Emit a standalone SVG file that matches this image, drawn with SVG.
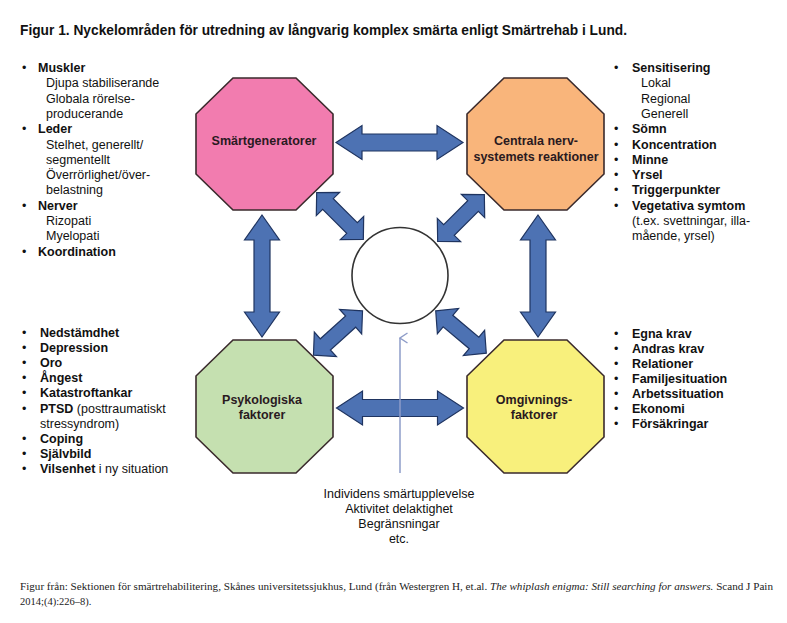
<svg xmlns="http://www.w3.org/2000/svg" width="787" height="623" viewBox="0 0 787 623">
<defs>
<style>
.t{font-family:"Liberation Sans",Arial,sans-serif;font-size:12.5px;fill:#111}
.b{font-weight:bold}
.lab{font-family:"Liberation Sans",Arial,sans-serif;font-size:12.5px;font-weight:bold;fill:#2a1a1f;text-anchor:middle}
.oct{stroke:#3a2a2c;stroke-width:1.6}
.arr{fill:#4d72b3;stroke:#1f3460;stroke-width:1.2;stroke-linejoin:miter}
.foot{font-family:"Liberation Serif","Times New Roman",serif;font-size:10.5px;fill:#222}
</style>
<path id="ah" d="M-63.5 0 L-37.5 -17 L-37.5 -8.5 L37.5 -8.5 L37.5 -17 L63.5 0 L37.5 17 L37.5 8.5 L-37.5 8.5 L-37.5 17 Z"/>
<path id="av" d="M-61 0 L-36 -17.5 L-36 -8 L36 -8 L36 -17.5 L61 0 L36 17.5 L36 8 L-36 8 L-36 17.5 Z"/>
<path id="ad" d="M-33 0 L-17 -16.5 L-17 -7.5 L17 -7.5 L17 -16.5 L33 0 L17 16.5 L17 7.5 L-17 7.5 L-17 16.5 Z"/>
<marker id="thin" markerWidth="14" markerHeight="12" refX="7" refY="1.5" orient="auto-start-reverse" markerUnits="userSpaceOnUse" viewBox="0 0 14 12">
<path d="M2 9 L7 1.5 L12 9" fill="none" stroke="#8e9cc8" stroke-width="1.4"/>
</marker>
</defs>
<rect width="787" height="623" fill="#fff"/>

<text x="20" y="35" font-family="'Liberation Sans',Arial,sans-serif" font-size="15" font-weight="bold" fill="#111" textLength="607" lengthAdjust="spacingAndGlyphs">Figur 1. Nyckelområden för utredning av långvarig komplex smärta enligt Smärtrehab i Lund.</text>

<g id="connectors">
<use href="#ah" class="arr" transform="translate(399.5,142.5)"/>
<use href="#ah" class="arr" transform="translate(400,408)"/>
<use href="#av" class="arr" transform="translate(262,276) rotate(90)"/>
<use href="#av" class="arr" transform="translate(538,276) rotate(90)"/>
<use href="#ad" class="arr" transform="translate(340,216) rotate(45)"/>
<use href="#ad" class="arr" transform="translate(461,218) rotate(-45)"/>
<use href="#ad" class="arr" transform="translate(338,333) rotate(-42)"/>
<use href="#ad" class="arr" transform="translate(461,332) rotate(40)"/>
<line x1="400" y1="473" x2="400" y2="338" stroke="#8e9cc8" stroke-width="1.5" marker-end="url(#thin)"/>
</g>

<g id="node-smartgeneratorer">
<polygon class="oct" fill="#f27caf" points="233,78 296,78 333,114 333,174 296,210 233,210 196,174 196,114"/>
<text class="lab" x="264" y="144.5">Smärtgeneratorer</text>
</g>
<g id="node-centrala">
<polygon class="oct" fill="#f9b57b" points="504,78 567,78 604,114 604,174 567,210 504,210 467,174 467,114"/>
<text class="lab" x="536" y="145">Centrala nerv-</text>
<text class="lab" x="536" y="160.5">systemets reaktioner</text>
</g>
<g id="node-psykologiska">
<polygon class="oct" fill="#c5e0b0" points="233,340 296,340 333,376 333,437 296,473 233,473 196,437 196,376"/>
<text class="lab" x="262" y="404">Psykologiska</text>
<text class="lab" x="262" y="419">faktorer</text>
</g>
<g id="node-omgivnings">
<polygon class="oct" fill="#f8f07c" points="504,340 567,340 604,376 604,437 567,473 504,473 467,437 467,376"/>
<text class="lab" x="534" y="404">Omgivnings-</text>
<text class="lab" x="534" y="419">faktorer</text>
</g>
<g id="node-center">
<circle cx="400" cy="275.5" r="48" fill="#fff" stroke="#333" stroke-width="1.6"/>
</g>

<g id="list-top-left" class="t">
<text x="22" y="72">•</text><text x="38" y="72" class="b">Muskler</text>
<text x="46" y="87.3">Djupa stabiliserande</text>
<text x="46" y="102.6">Globala rörelse-</text>
<text x="46" y="117.9">producerande</text>
<text x="22" y="133.2">•</text><text x="38" y="133.2" class="b">Leder</text>
<text x="46" y="148.5">Stelhet, generellt/</text>
<text x="46" y="163.8">segmentellt</text>
<text x="46" y="179.1">Överrörlighet/över-</text>
<text x="46" y="194.4">belastning</text>
<text x="22" y="209.7">•</text><text x="38" y="209.7" class="b">Nerver</text>
<text x="46" y="225">Rizopati</text>
<text x="46" y="240.3">Myelopati</text>
<text x="22" y="255.6">•</text><text x="38" y="255.6" class="b">Koordination</text>
</g>

<g id="list-top-right" class="t">
<text x="614" y="72">•</text><text x="632" y="72" class="b">Sensitisering</text>
<text x="641" y="87.3">Lokal</text>
<text x="641" y="102.6">Regional</text>
<text x="641" y="117.9">Generell</text>
<text x="614" y="133.2">•</text><text x="632" y="133.2" class="b">Sömn</text>
<text x="614" y="148.5">•</text><text x="632" y="148.5" class="b">Koncentration</text>
<text x="614" y="163.8">•</text><text x="632" y="163.8" class="b">Minne</text>
<text x="614" y="179.1">•</text><text x="632" y="179.1" class="b">Yrsel</text>
<text x="614" y="194.4">•</text><text x="632" y="194.4" class="b">Triggerpunkter</text>
<text x="614" y="209.7">•</text><text x="632" y="209.7" class="b">Vegetativa symtom</text>
<text x="632" y="225">(t.ex. svettningar, illa-</text>
<text x="632" y="240.3">mående, yrsel)</text>
</g>

<g id="list-bottom-left" class="t">
<text x="22" y="336.5">•</text><text x="40" y="336.5" class="b">Nedstämdhet</text>
<text x="22" y="351.7">•</text><text x="40" y="351.7" class="b">Depression</text>
<text x="22" y="366.9">•</text><text x="40" y="366.9" class="b">Oro</text>
<text x="22" y="382.1">•</text><text x="40" y="382.1" class="b">Ångest</text>
<text x="22" y="397.3">•</text><text x="40" y="397.3" class="b">Katastroftankar</text>
<text x="22" y="412.5">•</text><text x="40" y="412.5"><tspan class="b">PTSD</tspan> (posttraumatiskt</text>
<text x="40" y="427.7">stressyndrom)</text>
<text x="22" y="442.9">•</text><text x="40" y="442.9" class="b">Coping</text>
<text x="22" y="458.1">•</text><text x="40" y="458.1" class="b">Självbild</text>
<text x="22" y="473.3">•</text><text x="40" y="473.3"><tspan class="b">Vilsenhet</tspan> i ny situation</text>
</g>

<g id="list-bottom-right" class="t">
<text x="614" y="337.5">•</text><text x="632" y="337.5" class="b">Egna krav</text>
<text x="614" y="352.5">•</text><text x="632" y="352.5" class="b">Andras krav</text>
<text x="614" y="367.5">•</text><text x="632" y="367.5" class="b">Relationer</text>
<text x="614" y="382.5">•</text><text x="632" y="382.5" class="b">Familjesituation</text>
<text x="614" y="397.5">•</text><text x="632" y="397.5" class="b">Arbetssituation</text>
<text x="614" y="412.5">•</text><text x="632" y="412.5" class="b">Ekonomi</text>
<text x="614" y="427.5">•</text><text x="632" y="427.5" class="b">Försäkringar</text>
</g>

<g id="bottom-text" class="t" text-anchor="middle">
<text x="399" y="498">Individens smärtupplevelse</text>
<text x="399" y="513">Aktivitet delaktighet</text>
<text x="399" y="528">Begränsningar</text>
<text x="399" y="543">etc.</text>
</g>

<g id="footer" class="foot">
<text x="20" y="590" textLength="753" lengthAdjust="spacingAndGlyphs">Figur från: Sektionen för smärtrehabilitering, Skånes universitetssjukhus, Lund (från Westergren H, et.al. <tspan font-style="italic">The whiplash enigma: Still searching for answers.</tspan> Scand J Pain</text>
<text x="20" y="605">2014;(4):226–8).</text>
</g>
</svg>
